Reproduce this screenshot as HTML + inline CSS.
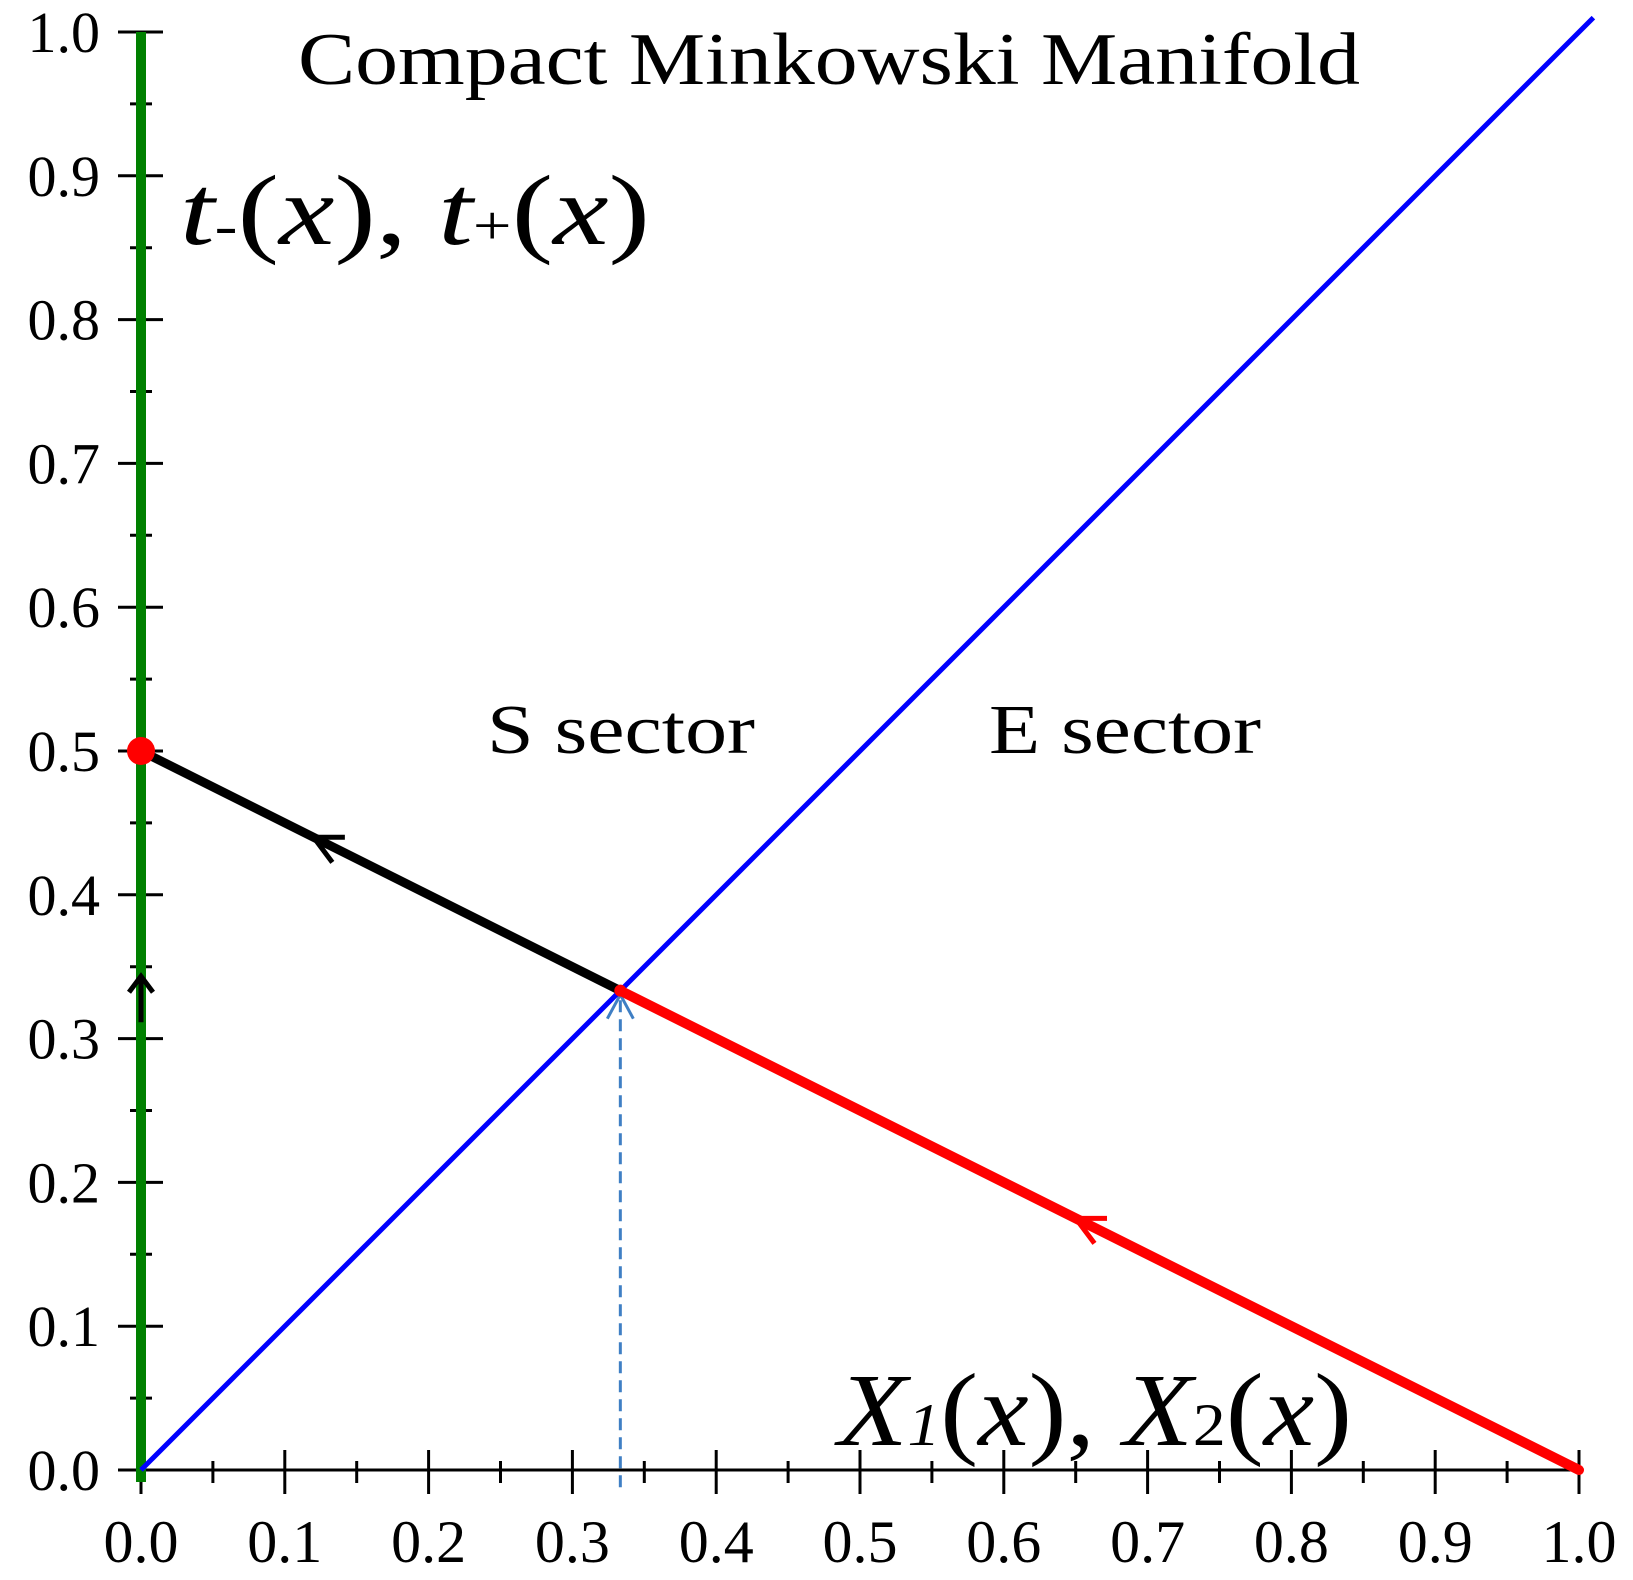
<!DOCTYPE html>
<html><head><meta charset="utf-8"><style>
html,body{margin:0;padding:0;background:#fff;}
svg{display:block;}
text{font-family:"Liberation Serif",serif;fill:#000;}
</style></head><body>
<svg id="chart" width="1633" height="1580" viewBox="0 0 1633 1580" xmlns="http://www.w3.org/2000/svg">
<g id="axes"></g>
<g id="marks"></g>
<text x="298" y="84" font-size="74" textLength="1062" lengthAdjust="spacingAndGlyphs">Compact Minkowski Manifold</text>
<text x="180" y="244" font-size="100" font-style="italic" textLength="470" lengthAdjust="spacingAndGlyphs">t<tspan font-size="55" font-style="normal">-</tspan><tspan font-style="normal">(</tspan>x<tspan font-style="normal">), </tspan>t<tspan font-size="55" font-style="normal">+</tspan><tspan font-style="normal">(</tspan>x<tspan font-style="normal">)</tspan></text>
<text x="838" y="1445" font-size="104" font-style="italic" textLength="514" lengthAdjust="spacingAndGlyphs">X<tspan font-size="60">1</tspan><tspan font-style="normal">(</tspan>x<tspan font-style="normal">), </tspan>X<tspan font-size="60" font-style="normal">2</tspan><tspan font-style="normal">(</tspan>x<tspan font-style="normal">)</tspan></text>
<text x="487" y="753" font-size="70" textLength="268" lengthAdjust="spacingAndGlyphs">S sector</text>
<text x="989" y="753" font-size="70" textLength="272" lengthAdjust="spacingAndGlyphs">E sector</text>
</svg>
<script>
const xTicks = [0,0.1,0.2,0.3,0.4,0.5,0.6,0.7,0.8,0.9,1.0];
const xTickLabels = ["0.0","0.1","0.2","0.3","0.4","0.5","0.6","0.7","0.8","0.9","1.0"];
const yTicks = [0,0.1,0.2,0.3,0.4,0.5,0.6,0.7,0.8,0.9,1.0];
const yTickLabels = ["0.0","0.1","0.2","0.3","0.4","0.5","0.6","0.7","0.8","0.9","1.0"];
const greenX = [0,0]; const greenY = [0,1];
const blueX = [0,1.01]; const blueY = [0,1.01];
const blackX = [1/3,0]; const blackY = [1/3,0.5];
const redX = [1,1/3]; const redY = [0,1/3];
const blackArrowX = 0.12;
const redArrowX = 0.65;
const upArrowY = 0.335;
const dotX = 0; const dotY = 0.5;
const dashX = 1/3; const dashY = [-0.012,1/3];

const X0=141,XU=1438,Y0=1470,YU=1438;
const sx=v=>X0+v*XU, sy=v=>Y0-v*YU;
const NS="http://www.w3.org/2000/svg";
function mk(tag,attrs,parent){const e=document.createElementNS(NS,tag);for(const k in attrs)e.setAttribute(k,attrs[k]);parent.appendChild(e);return e;}
const ax=document.getElementById('axes'), mg=document.getElementById('marks');

let e=mk('line',{x1:118,y1:Y0,x2:sx(1),y2:Y0,stroke:'#000','stroke-width':3},ax);


e=mk('line',{x1:X0,y1:Y0+22,x2:X0,y2:sy(1),stroke:'#000','stroke-width':3},ax);


xTicks.forEach((v,i)=>{
  let t=mk('line',{x1:sx(v),y1:Y0-20,x2:sx(v),y2:Y0+24,stroke:'#000','stroke-width':3},ax);
  
  
  if(i<xTicks.length-1){
    let m=mk('line',{x1:sx(v+0.05),y1:Y0-9,x2:sx(v+0.05),y2:Y0+13,stroke:'#000','stroke-width':3},ax);
    
    
  }
  let l=mk('text',{x:sx(v),y:1562,'font-size':60,'text-anchor':'middle'},ax);
  l.textContent=xTickLabels[i];
  
  
});
yTicks.forEach((v,i)=>{
  let t=mk('line',{x1:X0-23,y1:sy(v),x2:X0+22,y2:sy(v),stroke:'#000','stroke-width':3},ax);
  
  
  if(i<yTicks.length-1){
    let m=mk('line',{x1:X0-11,y1:sy(v+0.05),x2:X0+11,y2:sy(v+0.05),stroke:'#000','stroke-width':3},ax);
    
    
  }
  let l=mk('text',{x:100,y:sy(v)+20,'font-size':58,'text-anchor':'end'},ax);
  l.textContent=yTickLabels[i];
  
  
});

e=mk('line',{x1:sx(dashX),y1:sy(dashY[0]),x2:sx(dashX),y2:sy(dashY[1])+4,stroke:'#3f7fc4','stroke-width':3,'stroke-dasharray':'12,7'},mg);


e=mk('polyline',{points:`${sx(dashX)-13},${sy(dashY[1])+28} ${sx(dashX)},${sy(dashY[1])+4} ${sx(dashX)+13},${sy(dashY[1])+28}`,fill:'none',stroke:'#3f7fc4','stroke-width':3},mg);



e=mk('line',{x1:sx(greenX[0]),y1:sy(greenY[0])+12,x2:sx(greenX[1]),y2:sy(greenY[1]),stroke:'#008000','stroke-width':10},mg);


e=mk('line',{x1:sx(blueX[0]),y1:sy(blueY[0]),x2:sx(blueX[1]),y2:sy(blueY[1]),stroke:'#0000ff','stroke-width':5},mg);


e=mk('line',{x1:sx(blackX[0]),y1:sy(blackY[0]),x2:sx(blackX[1]),y2:sy(blackY[1]),stroke:'#000','stroke-width':9},mg);


e=mk('line',{x1:sx(redX[0]),y1:sy(redY[0]),x2:sx(redX[1]),y2:sy(redY[1]),stroke:'#ff0000','stroke-width':10,'stroke-linecap':'round'},mg);



function arrowOn(xs,ys,ax0,color,name){
  const t=(ax0-xs[0])/(xs[1]-xs[0]);
  const py=ys[0]+t*(ys[1]-ys[0]);
  const px=sx(ax0), pyy=sy(py);
  const dx=sx(xs[1])-sx(xs[0]), dy=sy(ys[1])-sy(ys[0]);
  const L=Math.hypot(dx,dy), ux=dx/L, uy=dy/L;
  const s=28, w=14;
  const a=mk('polyline',{points:`${px-ux*s-uy*w},${pyy-uy*s+ux*w} ${px},${pyy} ${px-ux*s+uy*w},${pyy-uy*s-ux*w}`,fill:'none',stroke:color,'stroke-width':5},mg);
  
  
}
arrowOn(blackX,blackY,blackArrowX,'#000','black-direction-arrow');
arrowOn(redX,redY,redArrowX,'#ff0000','red-direction-arrow');
e=mk('polyline',{points:`${X0-12},${sy(upArrowY)+4} ${X0},${sy(upArrowY)-12} ${X0+12},${sy(upArrowY)+4}`,fill:'none',stroke:'#000','stroke-width':5},mg);


e=mk('line',{x1:X0,y1:sy(upArrowY)-12,x2:X0,y2:sy(upArrowY)+34,stroke:'#000','stroke-width':5},mg);



e=mk('circle',{cx:sx(dotX),cy:sy(dotY),r:14,fill:'#ff0000'},mg);


e=mk('circle',{cx:sx(1/3),cy:sy(1/3),r:6,fill:'#ff0000'},mg);


</script>
</body></html>
